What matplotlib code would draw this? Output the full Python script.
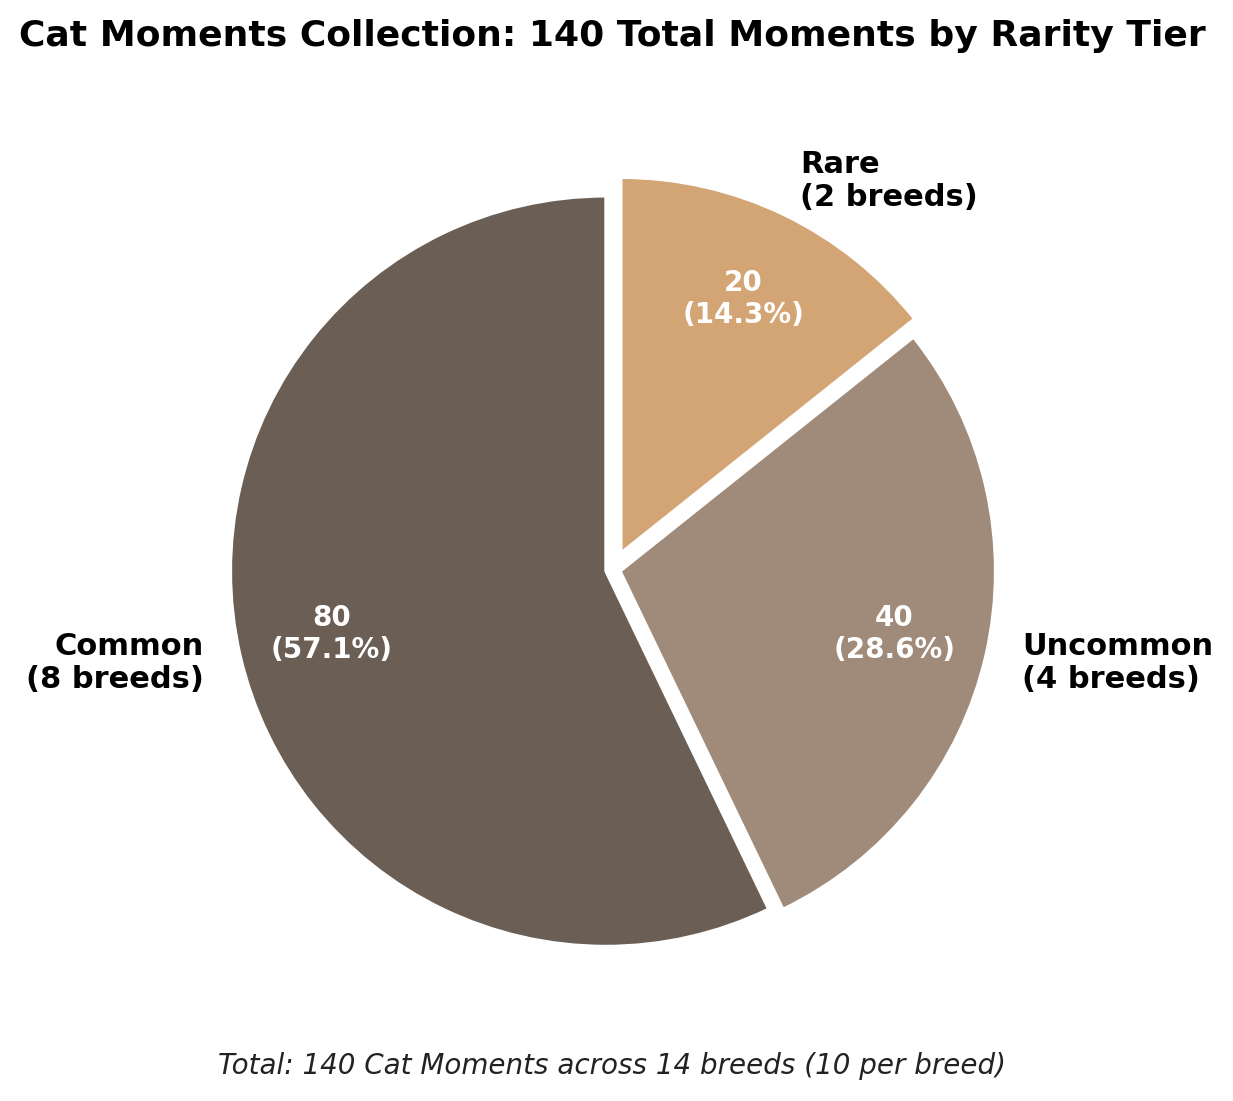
import matplotlib
matplotlib.use('Agg')
import matplotlib.pyplot as plt

# rarity tiers, moment counts and breed counts
tiers = ['Common', 'Uncommon', 'Rare']
moments = [80, 40, 20]
breeds = [8, 4, 2]
colors = ['#6B5E55', '#A08B7A', '#D3A474']
explode = [0.02, 0.02, 0.05]

total = sum(moments)
labels = [f"{t}\n({b} breeds)" for t, b in zip(tiers, breeds)]

W, H, DPI = 1233, 1101, 200
fig = plt.figure(figsize=(W / DPI, H / DPI), dpi=DPI)

# square axes centred on the pie (pixel geometry)
cx, cy, r = 613, 569.5, 375
half = 1.3 * r
ax = fig.add_axes([(cx - half) / W, (H - cy - half) / H, 2 * half / W, 2 * half / H])


def fmt(pct):
    val = int(round(pct * total / 100.0))
    return f"{val}\n({pct:.1f}%)"


wedges, texts, autotexts = ax.pie(
    moments, labels=labels, colors=colors, explode=explode,
    startangle=90, autopct=fmt, pctdistance=0.75, labeldistance=1.1,
    wedgeprops=dict(edgecolor='white', linewidth=1),
    textprops=dict(fontsize=11, fontweight='bold'))
for t in autotexts:
    t.set_color('white')
    t.set_fontsize(10)
ax.set_xlim(-1.3, 1.3)
ax.set_ylim(-1.3, 1.3)
ax.set_aspect('equal')

fig.text(612.5 / W, 1 - 36 / H, 'Cat Moments Collection: 140 Total Moments by Rarity Tier',
         ha='center', va='center', fontsize=13, fontweight='bold')
fig.text(612.5 / W, 1 - 1066 / H, 'Total: 140 Cat Moments across 14 breeds (10 per breed)',
         ha='center', va='center', fontsize=10, style='italic', color='#222222')

fig.savefig('out.png', dpi=DPI)
